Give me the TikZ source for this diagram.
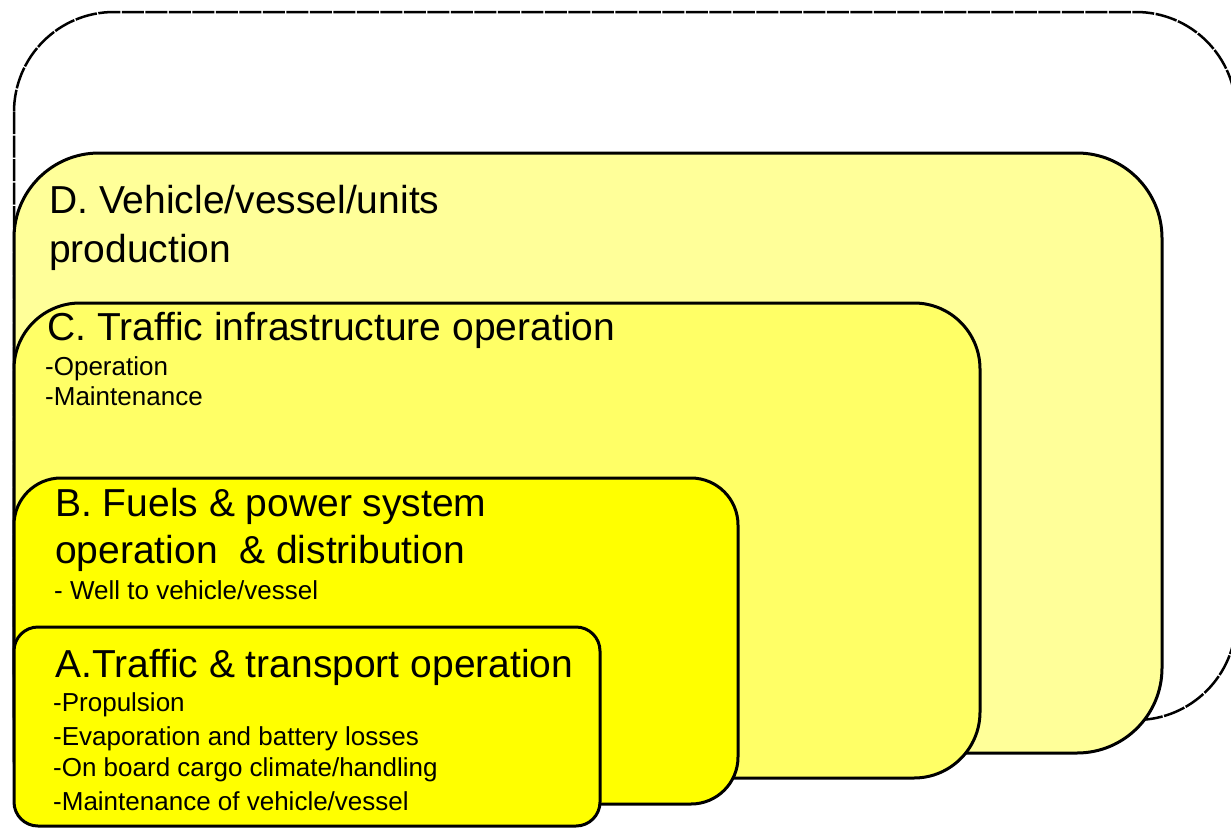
\documentclass[tikz,border=0pt]{standalone}
\usepackage{fontspec}
\setmainfont{Liberation Sans}
\definecolor{paleyellow}{HTML}{FFFF99}
\definecolor{lightyellow}{HTML}{FFFF66}
\definecolor{fullyellow}{HTML}{FFFF00}

\begin{document}
\begin{tikzpicture}[x=1pt, y=-1pt,
    layerbox/.style={draw=black, line width=3pt},
    headtext/.style={anchor=base west, inner sep=0pt, font=\fontsize{39}{47}\selectfont},
    subtext/.style={anchor=base west, inner sep=0pt, font=\fontsize{26}{32}\selectfont}]
  \useasboundingbox (0,0) rectangle (1231,827);
  \clip (0,0) rectangle (1231,827);

  % Outer frame
  \draw[line width=2.5pt, dash pattern=on 22pt off 1.5pt, rounded corners=100pt, fill=white] (14,12) rectangle (1236,720);

  % D. production
  \draw[layerbox, fill=paleyellow, rounded corners=85pt] (14,153) rectangle (1162,753);
  \node[headtext] (dhead) at (49,213) {D. Vehicle/vessel/units};
  \node[headtext] (dhead2) at (49,262) {production};

  % C. infrastructure
  \draw[layerbox, fill=lightyellow, rounded corners=66pt] (14,303) rectangle (980,778);
  \node[headtext] (chead) at (47,340) {C. Traffic infrastructure operation};
  \node[subtext] (csub1) at (45,375) {-Operation};
  \node[subtext] (csub2) at (45,405) {-Maintenance};

  % B. fuels & power
  \draw[layerbox, fill=fullyellow, rounded corners=47pt] (14,478) rectangle (738,804);
  \node[headtext] (bhead) at (55,516) {B. Fuels \& power system};
  \node[headtext] (bhead2) at (55,563) {operation\ \ \& distribution};
  \node[subtext] (bsub) at (54,599) {- Well to vehicle/vessel};

  % A. traffic & transport
  \draw[layerbox, fill=fullyellow, rounded corners=24pt] (14,627) rectangle (600,826);
  \node[headtext] (ahead) at (55,677) {A.Traffic \& transport operation};
  \node[subtext] (asub1) at (53,711) {-Propulsion};
  \node[subtext] (asub2) at (53,745) {-Evaporation and battery losses};
  \node[subtext] (asub3) at (53,776) {-On board cargo climate/handling};
  \node[subtext] (asub4) at (53,810) {-Maintenance of vehicle/vessel};
\end{tikzpicture}
\end{document}
